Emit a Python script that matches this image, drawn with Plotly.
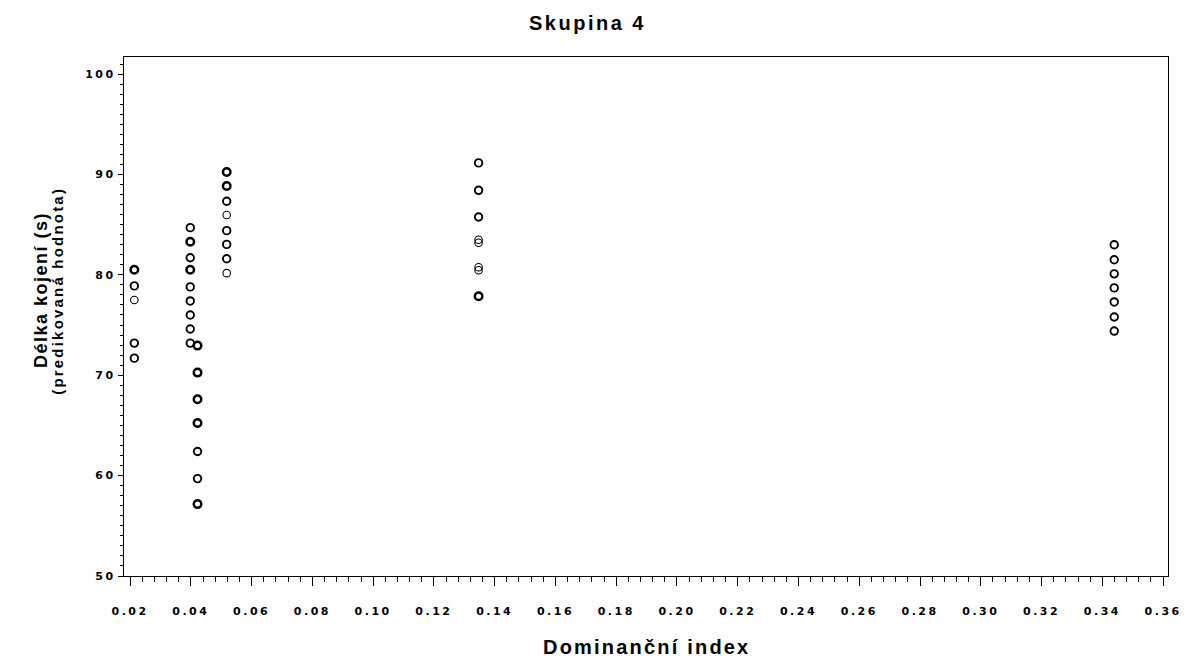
import plotly.graph_objects as go
from collections import Counter

# ---- data (repeated values = overplotted points) ----
title_text = "Skupina 4"
x_title = "Dominanční index"
y_title_1 = "Délka kojení (s)"
y_title_2 = "(predikovaná hodnota)"

x_groups = [0.0214, 0.0398, 0.0422, 0.0518, 0.1347, 0.3439]
y_g1 = [80.5, 80.5, 80.5, 78.9, 78.9, 77.5, 73.2, 73.2, 71.7, 71.7]
y_g2 = [84.7, 84.7, 83.3, 83.3, 83.3, 81.7, 81.7, 80.5, 80.5, 80.5,
        78.8, 78.8, 77.4, 77.4, 76.0, 76.0, 74.6, 74.6, 73.2, 73.2]
y_g3 = [72.95, 72.95, 72.95, 70.26, 70.26, 70.26, 67.6, 67.6, 67.6,
        65.24, 65.24, 65.24, 62.4, 62.4, 59.7, 59.7, 57.16, 57.16, 57.16]
y_g4 = [90.25, 90.25, 90.25, 88.85, 88.85, 88.85, 87.33, 87.33, 85.96,
        84.4, 84.4, 83.03, 83.03, 81.6, 81.6, 80.17]
y_g5 = [91.15, 91.15, 88.42, 88.42, 85.76, 85.76, 83.5, 83.2, 80.75, 80.45,
        77.87, 77.87, 77.87]
y_g6 = [83.0, 83.0, 81.5, 81.5, 80.1, 80.1, 78.7, 78.7, 77.3, 77.3,
        75.8, 75.8, 74.4, 74.4]
y_groups = [y_g1, y_g2, y_g3, y_g4, y_g5, y_g6]

x_tickvals = [0.02, 0.04, 0.06, 0.08, 0.10, 0.12, 0.14, 0.16, 0.18,
              0.20, 0.22, 0.24, 0.26, 0.28, 0.30, 0.32, 0.34, 0.36]
x_ticklabels = [f"{v:.2f}" for v in x_tickvals]
y_tickvals = [50, 60, 70, 80, 90, 100]
y_ticklabels = [str(v) for v in y_tickvals]

# ---- build points ----
counts = Counter()
for xv, ys in zip(x_groups, y_groups):
    for yv in ys:
        counts[(xv, yv)] += 1
px_, py_, lw_ = [], [], []
for (xv, yv), c in counts.items():
    px_.append(xv)
    py_.append(yv)
    lw_.append({1: 1.1, 2: 1.9}.get(c, 2.5))

fig = go.Figure()
fig.add_trace(go.Scatter(
    x=px_, y=py_, mode="markers",
    marker=dict(symbol="circle-open", size=7.5, color="black",
                line=dict(width=lw_, color="black")),
    showlegend=False, hoverinfo="x+y"))

tick_font = dict(family="DejaVu Sans", size=11, color="black", weight="bold")


def spaced(s, px=2.5):
    return f"<span style='letter-spacing:{px}px'>{s}</span>"


W, H = 1194, 661
L, R, T, B = 124, 14, 57, 85
PW, PH = W - L - R, H - T - B

fig.update_layout(
    width=W, height=H,
    margin=dict(l=L, r=R, t=T, b=B),
    paper_bgcolor="white", plot_bgcolor="white",
    font=dict(family="Liberation Sans", color="black"),
    showlegend=False,
)
fig.update_xaxes(
    range=[0.018, 0.3616],
    tickmode="array", tickvals=x_tickvals, ticktext=[spaced(t) for t in x_ticklabels],
    ticks="outside", ticklen=9, tickwidth=1.3, tickcolor="black",
    ticklabelstandoff=16, ticklabeloverflow="allow",
    minor=dict(tickmode="linear", tick0=0.02, dtick=0.004, ticks="outside",
               ticklen=5, tickwidth=1.1, tickcolor="black", showgrid=False),
    showline=True, linecolor="black", linewidth=1.4, mirror=True,
    showgrid=False, zeroline=False, tickfont=tick_font,
)
fig.update_yaxes(
    range=[50, 101.7],
    tickmode="array", tickvals=y_tickvals, ticktext=[spaced(t) for t in y_ticklabels],
    ticks="outside", ticklen=5, tickwidth=1.3, tickcolor="black",
    ticklabeloverflow="allow",
    minor=dict(tickmode="linear", tick0=50, dtick=1, ticks="outside",
               ticklen=3, tickwidth=1.1, tickcolor="black", showgrid=False),
    showline=True, linecolor="black", linewidth=1.4, mirror=True,
    showgrid=False, zeroline=False, tickfont=tick_font,
)

# chart title
fig.add_annotation(text=f"<b>{spaced(title_text, 2.5)}</b>", xref="paper", yref="paper",
                   x=(593 - L) / PW, y=1, yshift=T - 23, xanchor="center",
                   yanchor="middle", showarrow=False,
                   font=dict(family="Liberation Sans", size=20, color="black"))
# x-axis title
fig.add_annotation(text=f"<b>{spaced(x_title, 2.2)}</b>", xref="paper", yref="paper",
                   x=0.5, y=0, yshift=-(647 - (H - B)), xanchor="center",
                   yanchor="middle", showarrow=False,
                   font=dict(family="Liberation Sans", size=20, color="black"))
# y-axis title, two lines
fig.add_annotation(text=f"<b>{spaced(y_title_1, 1.5)}</b>",
                   xref="paper", yref="paper", x=(40 - L) / PW, y=(H - B - 290) / PH,
                   xanchor="center", yanchor="middle", textangle=-90, showarrow=False,
                   font=dict(family="Liberation Sans", size=18, color="black"))
fig.add_annotation(text=f"<b>{spaced(y_title_2, 2.2)}</b>",
                   xref="paper", yref="paper", x=(56 - L) / PW, y=(H - B - 291) / PH,
                   xanchor="center", yanchor="middle", textangle=-90, showarrow=False,
                   font=dict(family="Liberation Sans", size=15, color="black"))

# the page's default 8px body margin would push the figure past the window
fig.write_html("out.html", config={"displayModeBar": False},
               post_script="document.body.style.margin='0';")
